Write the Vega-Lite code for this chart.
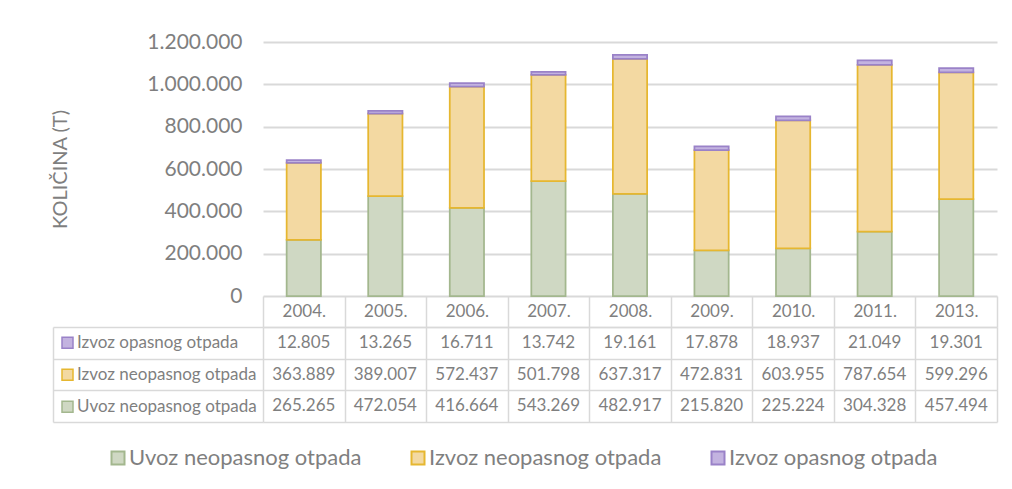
{
  "$schema": "https://vega.github.io/schema/vega-lite/v6.json",
  "padding": {"left": 50, "top": 31, "right": 8, "bottom": 10},
  "autosize": {"type": "pad"},
  "background": "white",
  "config": {
    "locale": {"number": {"decimal": ",", "thousands": ".", "grouping": [3], "currency": ["", ""]}},
    "view": {"stroke": null},
    "font": "Lato"
  },
  "datasets": {
    "rows": [
      {"year": "2004.", "series": "Uvoz neopasnog otpada", "value": 265265},
      {"year": "2004.", "series": "Izvoz neopasnog otpada", "value": 363889},
      {"year": "2004.", "series": "Izvoz opasnog otpada", "value": 12805},
      {"year": "2005.", "series": "Uvoz neopasnog otpada", "value": 472054},
      {"year": "2005.", "series": "Izvoz neopasnog otpada", "value": 389007},
      {"year": "2005.", "series": "Izvoz opasnog otpada", "value": 13265},
      {"year": "2006.", "series": "Uvoz neopasnog otpada", "value": 416664},
      {"year": "2006.", "series": "Izvoz neopasnog otpada", "value": 572437},
      {"year": "2006.", "series": "Izvoz opasnog otpada", "value": 16711},
      {"year": "2007.", "series": "Uvoz neopasnog otpada", "value": 543269},
      {"year": "2007.", "series": "Izvoz neopasnog otpada", "value": 501798},
      {"year": "2007.", "series": "Izvoz opasnog otpada", "value": 13742},
      {"year": "2008.", "series": "Uvoz neopasnog otpada", "value": 482917},
      {"year": "2008.", "series": "Izvoz neopasnog otpada", "value": 637317},
      {"year": "2008.", "series": "Izvoz opasnog otpada", "value": 19161},
      {"year": "2009.", "series": "Uvoz neopasnog otpada", "value": 215820},
      {"year": "2009.", "series": "Izvoz neopasnog otpada", "value": 472831},
      {"year": "2009.", "series": "Izvoz opasnog otpada", "value": 17878},
      {"year": "2010.", "series": "Uvoz neopasnog otpada", "value": 225224},
      {"year": "2010.", "series": "Izvoz neopasnog otpada", "value": 603955},
      {"year": "2010.", "series": "Izvoz opasnog otpada", "value": 18937},
      {"year": "2011.", "series": "Uvoz neopasnog otpada", "value": 304328},
      {"year": "2011.", "series": "Izvoz neopasnog otpada", "value": 787654},
      {"year": "2011.", "series": "Izvoz opasnog otpada", "value": 21049},
      {"year": "2013.", "series": "Uvoz neopasnog otpada", "value": 457494},
      {"year": "2013.", "series": "Izvoz neopasnog otpada", "value": 599296},
      {"year": "2013.", "series": "Izvoz opasnog otpada", "value": 19301}
    ],
    "seriesOrder": [
      {"series": "Uvoz neopasnog otpada", "stackOrder": 1},
      {"series": "Izvoz neopasnog otpada", "stackOrder": 2},
      {"series": "Izvoz opasnog otpada", "stackOrder": 3}
    ]
  },
  "bounds": "flush",
  "spacing": 31,
  "resolve": {
    "scale": {"fill": "independent", "stroke": "independent"},
    "legend": {"fill": "independent", "stroke": "independent"}
  },
  "vconcat": [
    {
      "width": 734,
      "height": 254,
      "data": {"name": "rows"},
      "transform": [
        {"lookup": "series", "from": {"data": {"name": "seriesOrder"}, "key": "series", "fields": ["stackOrder"]}}
      ],
      "mark": {"type": "bar", "strokeWidth": 1.75},
      "encoding": {
        "x": {"field": "year", "type": "nominal", "axis": null, "scale": {"paddingInner": 0.58, "paddingOuter": 0.29}},
        "y": {
          "field": "value", "type": "quantitative", "stack": "zero",
          "scale": {"domain": [0, 1200000], "nice": false},
          "axis": {
            "values": [0, 200000, 400000, 600000, 800000, 1000000, 1200000],
            "format": ",d",
            "title": "KOLIČINA (T)",
            "domain": false, "ticks": false,
            "grid": true, "gridColor": "#d9d9d9", "gridWidth": 2,
            "labelFont": "Lato", "labelFontSize": 21, "labelColor": "#7f7f7f", "labelPadding": 21,
            "titleFont": "Lato", "titleFontSize": 20, "titleFontWeight": "normal", "titleColor": "#7f7f7f", "titlePadding": 76
          }
        },
        "order": {"field": "stackOrder", "type": "quantitative", "sort": "ascending"},
        "fill": {
          "field": "series", "type": "nominal",
          "scale": {"domain": ["Uvoz neopasnog otpada", "Izvoz neopasnog otpada", "Izvoz opasnog otpada"], "range": ["#cfd8c3", "#f3d9a2", "#c3b3e0"]},
          "legend": {"orient": "none", "legendX": -156, "legendY": 405, "direction": "horizontal", "title": null, "symbolType": "square", "symbolSize": 169, "symbolStrokeWidth": 2, "symbolStrokeColor": "#999999", "labelFont": "Lato", "labelFontSize": 22, "labelColor": "#7f7f7f", "columnPadding": 45, "labelOffset": 0, "padding": 0, "labelLimit": 400}
        },
        "stroke": {
          "field": "series", "type": "nominal",
          "scale": {"domain": ["Uvoz neopasnog otpada", "Izvoz neopasnog otpada", "Izvoz opasnog otpada"], "range": ["#a3b78e", "#e6b730", "#9a82c8"]},
          "legend": {"orient": "none", "legendX": -156, "legendY": 405, "direction": "horizontal", "title": null, "symbolType": "square", "symbolSize": 169, "symbolStrokeWidth": 2, "symbolStrokeColor": "#999999", "labelFont": "Lato", "labelFontSize": 22, "labelColor": "#7f7f7f", "columnPadding": 45, "labelOffset": 0, "padding": 0, "labelLimit": 400}
        }
      }
    },
    {
      "width": 734,
      "height": 95,
      "data": {"name": "rows"},
      "encoding": {
        "x": {
          "field": "year", "type": "nominal",
          "scale": {"paddingInner": 0, "paddingOuter": 0},
          "axis": {"orient": "top", "title": null, "tickBand": "extent", "tickSize": 31, "tickColor": "#d9d9d9", "tickWidth": 1.5, "domainColor": "#d9d9d9", "domainWidth": 1.5, "grid": true, "gridColor": "#d9d9d9", "gridWidth": 1.5, "labelFont": "Lato", "labelFontSize": 17, "labelColor": "#7f7f7f", "labelPadding": -15, "labelBaseline": "middle", "labelAngle": 0}
        },
        "y": {
          "field": "series", "type": "nominal",
          "sort": ["Izvoz opasnog otpada", "Izvoz neopasnog otpada", "Uvoz neopasnog otpada"],
          "scale": {"paddingInner": 0, "paddingOuter": 0},
          "axis": {"title": null, "labels": false, "tickBand": "extent", "offset": 210, "tickSize": -210, "tickColor": "#d9d9d9", "tickWidth": 1.5, "domainColor": "#d9d9d9", "domainWidth": 1.5, "grid": true, "gridColor": "#d9d9d9", "gridWidth": 1.5}
        }
      },
      "layer": [
        {
          "mark": {"type": "text", "font": "Lato", "fontSize": 17, "color": "#7f7f7f", "baseline": "middle"},
          "encoding": {"text": {"field": "value", "type": "quantitative", "format": ",d"}}
        },
        {
          "mark": {"type": "square", "size": 0, "opacity": 1, "strokeWidth": 1.5},
          "encoding": {
            "fill": {
              "field": "series", "type": "nominal",
              "scale": {"domain": ["Izvoz opasnog otpada", "Izvoz neopasnog otpada", "Uvoz neopasnog otpada"], "range": ["#c3b3e0", "#f3d9a2", "#cfd8c3"]},
              "legend": {"orient": "none", "legendX": -204, "legendY": 0, "direction": "vertical", "title": null, "symbolType": "square", "symbolSize": 121, "symbolStrokeWidth": 1.5, "symbolStrokeColor": "#999999", "labelFont": "Lato", "labelFontSize": 17, "labelColor": "#7f7f7f", "clipHeight": 31.7, "rowPadding": 0, "labelOffset": 1, "padding": 0, "labelLimit": 300}
            },
            "stroke": {
              "field": "series", "type": "nominal",
              "scale": {"domain": ["Izvoz opasnog otpada", "Izvoz neopasnog otpada", "Uvoz neopasnog otpada"], "range": ["#9a82c8", "#e6b730", "#a3b78e"]},
              "legend": {"orient": "none", "legendX": -204, "legendY": 0, "direction": "vertical", "title": null, "symbolType": "square", "symbolSize": 121, "symbolStrokeWidth": 1.5, "symbolStrokeColor": "#999999", "labelFont": "Lato", "labelFontSize": 17, "labelColor": "#7f7f7f", "clipHeight": 31.7, "rowPadding": 0, "labelOffset": 1, "padding": 0, "labelLimit": 300}
            }
          }
        }
      ]
    }
  ]
}
